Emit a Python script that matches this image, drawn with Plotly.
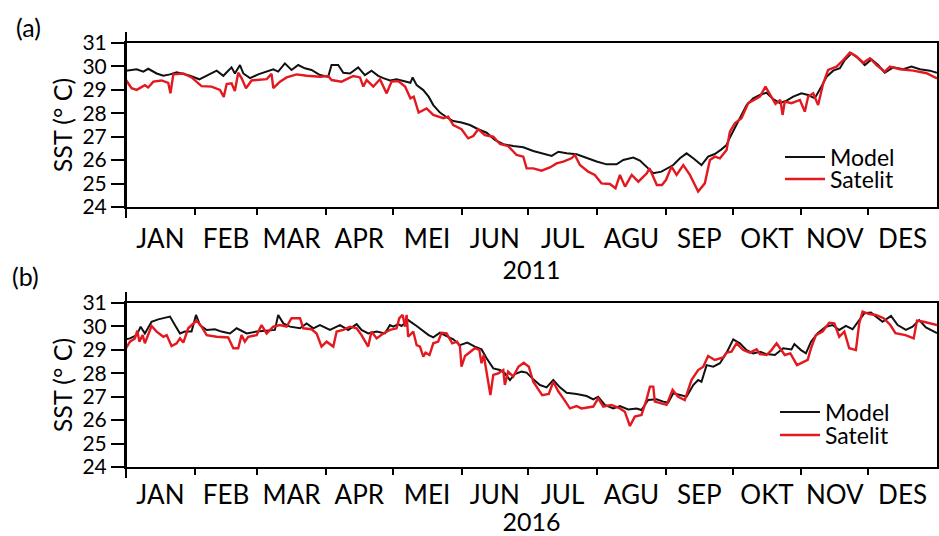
import plotly.graph_objects as go

# ---------------- data ----------------
month_starts = [0, 31, 59, 90, 120, 151, 181, 212, 243, 273, 304, 334, 365]
month_labels = ["JAN", "FEB", "MAR", "APR", "MEI", "JUN", "JUL", "AGU", "SEP", "OKT", "NOV", "DES"]
y_ticks = [24, 25, 26, 27, 28, 29, 30, 31]

# Panel (a) 2011 - Model
a_model_day = [0, 4.8, 7.8, 10, 13.8, 16.8, 19.8, 22.8, 25, 28.8, 33, 37, 40.8, 43.8, 47.5, 49, 51.3, 52.8, 55.8,
               59.5, 63.3, 66.3, 68.5, 71.5, 74.5, 77.5, 80.5, 83.5, 87.3, 91, 92.5, 95.5, 97.8, 100.8, 104.5,
               107.5, 110.5, 113.5, 115.8, 118.8, 121.8, 125.6, 128, 129, 130.8, 133.8, 136.2, 138.3, 141.3,
               144.3, 147.3, 151, 154.8, 158.5, 162.3, 166, 169.8, 174.3, 178.8, 183.3, 187.8, 191.6, 194.6,
               198.3, 202.8, 207.3, 211.8, 216.3, 220.8, 223.8, 228.3, 231.3, 235, 237.3, 241, 243.5, 246.3,
               249.3, 252.3, 255.3, 259, 262, 265, 268, 270.3, 271.8, 274, 276.3, 279.3, 282.3, 285.3, 288.3,
               291.3, 294.3, 297.3, 300.3, 304, 307, 310, 313, 315.3, 318.3, 321.3, 323.5, 326.5, 329.5, 332.5,
               335.5, 338.5, 341.5, 345.3, 349.8, 353.5, 357.3, 361.8, 365]
a_model_sst = [29.82, 29.88, 29.78, 29.9, 29.7, 29.6, 29.66, 29.75, 29.7, 29.6, 29.45, 29.63, 29.82, 29.6, 29.96,
               29.7, 30.06, 29.7, 29.5, 29.66, 29.78, 29.88, 29.78, 30.13, 29.85, 30.06, 29.92, 29.85, 29.63,
               29.56, 30.06, 30.06, 29.73, 29.7, 29.96, 29.63, 29.82, 29.6, 29.5, 29.4, 29.45, 29.35, 29.3,
               29.53, 29.2, 28.99, 28.71, 28.35, 28.03, 27.83, 27.67, 27.61, 27.5, 27.32, 27.17, 26.86, 26.68,
               26.6, 26.55, 26.39, 26.26, 26.18, 26.36, 26.29, 26.25, 26.08, 25.94, 25.82, 25.82, 26.01, 26.11,
               25.98, 25.65, 25.44, 25.51, 25.65, 25.79, 26.08, 26.29, 26.08, 25.79, 26.15, 26.26, 26.46, 26.65,
               26.97, 27.36, 27.79, 28.35, 28.64, 28.78, 28.88, 28.6, 28.43, 28.54, 28.71, 28.85, 28.78, 28.64,
               29.14, 29.56, 29.82, 29.92, 30.27, 30.56, 30.35, 30.06, 30.3, 30.06, 29.73, 29.96, 29.88, 29.99,
               29.88, 29.82, 29.73]

# Panel (a) 2011 - Satelit
a_sat_day = [0, 2.5, 4.8, 8.5, 10, 12.3, 16, 19, 20, 21.3, 25.8, 29.5, 34, 38.5, 42.3, 44, 45.3, 47.5, 49, 50.5,
             52, 54, 56.5, 60.3, 63.3, 65.5, 66.3, 69.3, 72.3, 76.8, 81.3, 87.3, 91, 92.5, 97, 102.3, 105.3,
             106.8, 108.3, 111.3, 114.3, 117.3, 119.5, 122.5, 125.6, 128, 129.5, 131.7, 135.3, 138.3, 142.8,
             145, 147.3, 151, 154, 156.3, 158.5, 161.5, 165.3, 168.3, 172, 175.8, 178.8, 180.3, 183.3, 187,
             190.8, 193.8, 196.8, 200.5, 202, 204.3, 208, 211, 214, 217.8, 220.3, 222.3, 224.6, 227.6, 230.6,
             234.4, 235.6, 238.9, 241.2, 243, 245.5, 247.8, 250.8, 253.8, 257.5, 260.5, 262.8, 265, 267.3, 270.3,
             271.8, 274, 277, 280, 283, 285.3, 287.8, 290, 292.3, 294.5, 295.5, 296.5, 299.5, 303.3, 305.5, 307,
             309.3, 311.5, 313.8, 316, 319.8, 322.8, 325.8, 328.8, 331.8, 334.8, 337.8, 341.5, 343.8, 348.3,
             354.3, 360.3, 365]
a_sat_sst = [29.42, 29.07, 29.0, 29.2, 29.1, 29.35, 29.4, 29.3, 28.85, 29.66, 29.7, 29.53, 29.16, 29.14, 29.0,
             28.7, 29.25, 29.28, 28.95, 29.73, 29.5, 29.07, 29.4, 29.45, 29.46, 29.68, 29.07, 29.35, 29.53,
             29.66, 29.6, 29.56, 29.59, 29.42, 29.35, 29.59, 29.53, 29.14, 29.42, 29.14, 29.45, 28.85, 29.35,
             29.38, 29.14, 28.64, 28.71, 28.03, 28.21, 27.93, 27.79, 27.86, 27.5, 27.32, 26.93, 27.03, 27.32,
             27.07, 27.0, 26.69, 26.6, 26.22, 26.15, 25.65, 25.65, 25.55, 25.69, 25.86, 25.94, 26.08, 26.22,
             25.79, 25.51, 25.37, 25.01, 24.98, 24.8, 25.37, 24.87, 25.37, 25.08, 25.44, 25.65, 24.94, 24.94,
             25.15, 25.72, 25.37, 25.79, 25.37, 24.66, 25.01, 26.01, 26.15, 26.08, 26.43, 27.22, 27.57, 27.79,
             28.43, 28.57, 28.71, 29.14, 28.78, 28.4, 28.57, 27.93, 28.5, 28.43, 28.57, 28.07, 28.71, 28.85,
             28.35, 29.28, 29.85, 29.99, 30.27, 30.59, 30.42, 30.16, 30.35, 30.06, 29.78, 29.99, 29.88, 29.82,
             29.71, 29.49]

# Panel (b) 2016 - Model
b_model_day = [0, 1.8, 4.8, 6.6, 8.5, 11.5, 14.5, 16.8, 19.8, 22, 24.3, 26.5, 29.5, 31.5, 33.3, 36.3, 40, 43,
               46.8, 49.8, 52, 54.3, 58.8, 63.3, 67, 68.5, 70.8, 73.8, 78.3, 81.3, 84.3, 87.3, 91.8, 96.3, 100,
               103.8, 106, 109, 112.8, 116.5, 118.8, 120.3, 122.5, 124, 127, 130.8, 133.8, 136.2, 138.3, 141.3,
               144.3, 147.3, 150.3, 153.6, 157, 160, 162.3, 165.3, 168.3, 170.5, 172.8, 175, 178, 180.3, 183.3,
               186.3, 189.3, 192.3, 195.3, 198.3, 202.8, 207.3, 210.3, 212.5, 215.5, 219.3, 222.3, 226, 229.8,
               232, 235, 238.8, 241.8, 244, 246.3, 249.3, 252.3, 255.3, 257.5, 259, 261.3, 264.3, 267.3, 270.3,
               273.3, 276.3, 279.3, 282.3, 285.3, 288.3, 292, 295.8, 299.5, 300.8, 303.8, 306, 308.3, 311.3, 315,
               318, 321, 324, 327, 330, 332.3, 335.3, 337.5, 340.5, 344.3, 347.3, 351, 354, 357, 360, 365]
b_model_sst = [29.45, 29.49, 29.63, 29.99, 29.7, 30.2, 30.3, 30.35, 30.42, 30.06, 29.7, 29.78, 29.78, 30.49,
               30.06, 29.85, 29.88, 29.78, 29.7, 29.92, 29.82, 29.7, 29.78, 29.82, 29.85, 30.49, 30.13, 29.99,
               29.92, 30.13, 29.92, 30.06, 29.85, 30.06, 29.85, 30.1, 29.85, 29.7, 29.78, 29.7, 30.06, 29.99,
               30.1, 30.02, 30.27, 30.02, 29.82, 29.63, 29.53, 29.73, 29.59, 29.45, 29.2, 29.31, 29.14, 29.02,
               28.64, 28.21, 28.14, 28.0, 27.71, 27.97, 28.07, 28.03, 27.74, 27.5, 27.4, 27.71, 27.4, 27.17,
               27.12, 27.03, 26.89, 27.0, 26.65, 26.5, 26.6, 26.46, 26.5, 26.43, 26.86, 26.89, 26.79, 26.75,
               27.15, 27.08, 27.0, 27.5, 27.71, 27.64, 28.35, 28.28, 28.43, 28.88, 29.45, 29.28, 28.99, 28.85,
               28.92, 28.82, 28.78, 29.07, 29.02, 29.25, 28.99, 28.85, 29.35, 29.71, 29.99, 30.06, 29.85, 30.02,
               29.88, 30.27, 30.56, 30.59, 30.42, 30.2, 30.45, 30.06, 29.85, 29.99, 30.27, 29.96, 29.71]

# Panel (b) 2016 - Satelit
b_sat_day = [0, 1.8, 4, 5.1, 6, 7.5, 8.5, 11.5, 13.8, 16.8, 18.3, 20.5, 22.8, 24.3, 25.8, 28, 31.8, 34, 36.3,
             40.8, 46, 48.3, 50.5, 52, 53.5, 55, 58.8, 61, 63.3, 66.3, 69.3, 72.3, 74.5, 78.3, 79.8, 83.5, 85.8,
             88, 90.3, 93.3, 94.8, 97.8, 100.8, 103.8, 106, 109, 110.5, 112.8, 115.8, 118.8, 121.8, 123, 124.5,
             125.6, 126.3, 127, 129.3, 130.8, 132.3, 133.8, 134.8, 136.6, 138.3, 140.5, 142, 144.3, 146.8, 149,
             150.3, 151, 152.6, 154.8, 157, 159, 160, 161, 162.3, 164, 165.3, 167.5, 169.8, 170.5, 172, 174.3,
             176.6, 179, 181.3, 183.3, 187.3, 190.3, 192.3, 194.6, 196.8, 199.8, 202.8, 205, 210.3, 212.5, 214.8,
             218.5, 222.3, 224.5, 226.8, 229, 232, 234.3, 235.8, 237.3, 238, 241, 243.3, 246, 248.5, 251.5, 254.5,
             257.5, 259.8, 262, 265, 268.8, 270.3, 272.5, 274.8, 277.8, 280.8, 283.8, 285.3, 288.3, 290.5, 292.8,
             294.3, 296.5, 299, 302, 306.8, 308.3, 310.5, 313.5, 316.5, 318.8, 321, 323.3, 325.5, 328.5, 330,
             331.5, 334.5, 337.5, 341, 344, 346.3, 350.8, 354.5, 356, 359, 362, 365]
b_sat_sst = [29.07, 29.35, 29.49, 29.82, 29.35, 29.63, 29.28, 30.02, 29.78, 29.56, 29.63, 29.16, 29.28, 29.49,
             29.31, 29.92, 30.25, 29.99, 29.63, 29.56, 29.53, 29.07, 29.07, 29.63, 29.35, 29.56, 29.63, 30.06,
             29.7, 29.99, 30.06, 29.99, 30.35, 30.35, 29.92, 29.88, 29.7, 29.14, 29.35, 29.14, 29.78, 29.85,
             29.99, 29.92, 29.63, 29.14, 29.78, 29.49, 29.7, 29.85, 29.92, 30.35, 30.49, 29.99, 30.49, 29.56,
             29.78, 29.2, 29.14, 28.71, 28.88, 28.78, 29.28, 29.35, 29.73, 29.7, 29.28, 29.35, 29.14, 28.28,
             28.74, 28.92, 29.07, 29.0, 28.43, 28.78, 28.07, 27.07, 27.93, 28.0, 28.14, 27.5, 28.07, 27.86,
             28.28, 28.45, 28.28, 27.64, 27.07, 27.12, 27.64, 27.22, 26.93, 26.5, 26.6, 26.5, 26.58, 26.93,
             26.58, 26.65, 26.5, 26.36, 25.75, 26.15, 26.22, 26.89, 27.43, 27.43, 26.79, 26.72, 26.65, 27.29,
             27.0, 26.86, 27.71, 28.14, 28.28, 28.74, 28.57, 28.68, 28.88, 28.92, 29.28, 28.99, 28.88, 29.02,
             28.82, 28.78, 28.99, 29.28, 29.07, 28.78, 28.85, 28.35, 28.57, 29.07, 29.63, 29.78, 30.16, 30.13,
             29.56, 29.78, 29.07, 28.99, 30.13, 30.63, 30.53, 30.49, 30.35, 30.06, 29.71, 29.63, 29.49, 30.25,
             30.2, 30.13, 30.06]

# ---------------- figure ----------------
W, H = 939, 536
FONT = "Lato"
BLACK = "#111111"
RED = "#e3191f"

month_mid = [(month_starts[i] + month_starts[i + 1]) / 2 for i in range(12)]

fig = go.Figure()
fig.add_trace(go.Scatter(x=a_model_day, y=a_model_sst, mode="lines", name="Model",
                         line=dict(color=BLACK, width=2), xaxis="x", yaxis="y", legend="legend"))
fig.add_trace(go.Scatter(x=a_sat_day, y=a_sat_sst, mode="lines", name="Satelit",
                         line=dict(color=RED, width=2.4), xaxis="x", yaxis="y", legend="legend2"))
fig.add_trace(go.Scatter(x=b_model_day, y=b_model_sst, mode="lines", name="Model",
                         line=dict(color=BLACK, width=2), xaxis="x2", yaxis="y2", legend="legend3"))
fig.add_trace(go.Scatter(x=b_sat_day, y=b_sat_sst, mode="lines", name="Satelit",
                         line=dict(color=RED, width=2.4), xaxis="x2", yaxis="y2", legend="legend4"))

x_dom = [126 / W, 937 / W]
ya_dom = [1 - 207 / H, 1 - 43 / H]
yb_dom = [1 - 467 / H, 1 - 303 / H]


def xaxis_cfg(anchor, title, label_gap):
    return dict(
        domain=x_dom, anchor=anchor, range=[0, 365], automargin=False,
        tickmode="array", tickvals=month_mid, ticktext=month_labels,
        ticks="outside", ticklen=0, tickwidth=2,
        ticklabelstandoff=label_gap,
        tickfont=dict(family=FONT, size=26, color="black"),
        minor=dict(tickmode="array", tickvals=month_starts[1:-1], ticks="outside",
                   ticklen=6, tickwidth=2, tickcolor="black", showgrid=False),
        showline=True, linecolor="black", linewidth=2, mirror=True,
        showgrid=False, zeroline=False,
        title=dict(text=title, font=dict(family=FONT, size=25, color="black"), standoff=0),
    )


def xtop_cfg(overlay, anchor):
    return dict(
        domain=x_dom, overlaying=overlay, anchor=anchor, side="top", range=[0, 365], automargin=False,
        tickmode="array", tickvals=month_starts[1:-1], ticks="outside", ticklen=6, tickwidth=2,
        tickcolor="black", showticklabels=False, showline=False, showgrid=False, zeroline=False,
    )


def yaxis_cfg(anchor, dom):
    return dict(
        domain=dom, anchor=anchor, range=[24, 31], automargin=False,
        tickmode="array", tickvals=y_ticks,
        ticks="outside", ticklen=13, tickwidth=2, tickcolor="black",
        tickfont=dict(family=FONT, size=21, color="black"),
        showline=True, linecolor="black", linewidth=2, mirror=True,
        showgrid=False, zeroline=False,
        title=dict(text="SST (° C)", font=dict(family=FONT, size=25, color="black"), standoff=3),
    )


def leg(xpx, ypx):
    return dict(x=xpx / W, y=1 - ypx / H, xanchor="left", yanchor="middle",
                bgcolor="rgba(0,0,0,0)", borderwidth=0, itemwidth=40,
                font=dict(family=FONT, size=23, color="black"))


fig.update_layout(
    width=W, height=H,
    margin=dict(l=0, r=0, t=0, b=0, autoexpand=False),
    paper_bgcolor="white", plot_bgcolor="white",
    xaxis=xaxis_cfg("y", "2011", 8),
    yaxis=yaxis_cfg("x", ya_dom),
    xaxis2=xaxis_cfg("y2", "2016", 4),
    yaxis2=yaxis_cfg("x2", yb_dom),
    xaxis3=xtop_cfg("x", "y"),
    xaxis4=xtop_cfg("x2", "y2"),
    yaxis3=dict(domain=yb_dom, overlaying="y2", anchor="x2", side="right", range=[24, 31],
                automargin=False, tickmode="array", tickvals=y_ticks, ticks="inside", ticklen=4,
                tickwidth=2, tickcolor="black", showticklabels=False, showline=False,
                showgrid=False, zeroline=False),
    legend=leg(780, 157),
    legend2=leg(780, 179),
    legend3=leg(775, 412),
    legend4=leg(775, 435),
    showlegend=True,
    annotations=[
        dict(text="(a)", x=28 / W, y=1 - 27 / H, xref="paper", yref="paper", showarrow=False,
             xanchor="center", yanchor="middle", font=dict(family=FONT, size=25, color="black")),
        dict(text="(b)", x=25 / W, y=1 - 276 / H, xref="paper", yref="paper", showarrow=False,
             xanchor="center", yanchor="middle", font=dict(family=FONT, size=25, color="black")),
    ],
    shapes=[
        dict(type="line", xref="x domain", yref="y domain", x0=0, x1=0, y0=-0.067, y1=1.067,
             line=dict(color="black", width=2)),
        dict(type="line", xref="x2 domain", yref="y2 domain", x0=0, x1=0, y0=-0.067, y1=1.067,
             line=dict(color="black", width=2)),
    ],
)

fig.write_html("out.html", config={"displayModeBar": False},
               post_script="document.body.style.margin='0px';")
